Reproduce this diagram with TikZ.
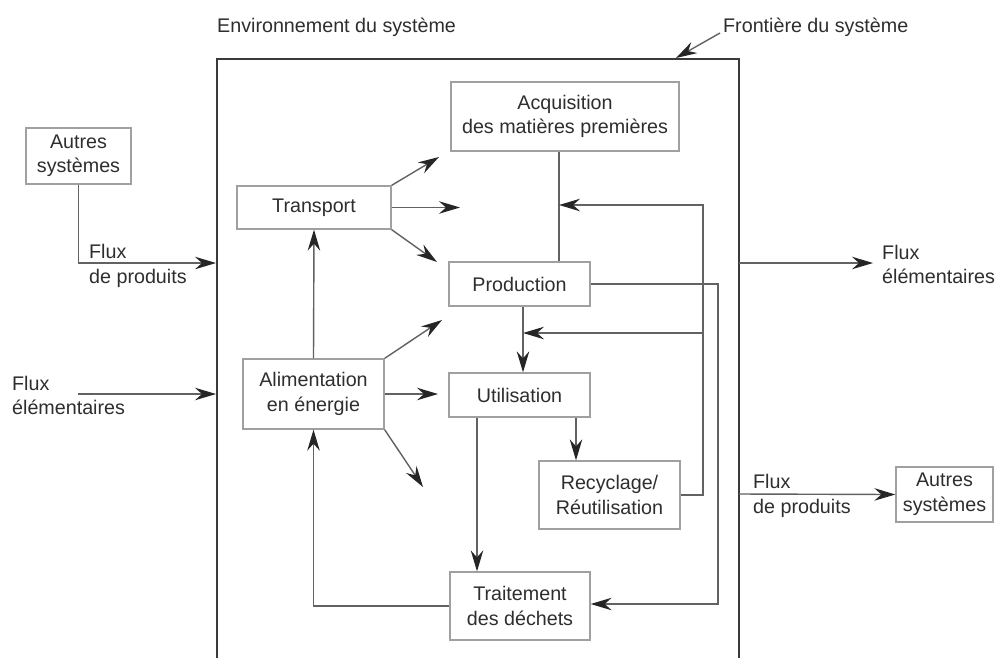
\documentclass[tikz,border=0pt]{standalone}
\usepackage{fontspec}
\setmainfont{Liberation Sans}
\usetikzlibrary{arrows.meta}
\definecolor{textc}{HTML}{2E2E2E}
\definecolor{boxc}{HTML}{A0A0A0}
\definecolor{linec}{HTML}{626262}
\definecolor{tipc}{HTML}{262626}
\definecolor{boundc}{HTML}{3A3A3A}
\begin{document}
\begin{tikzpicture}[x=1pt,y=-1pt,
  every node/.style={font=\fontsize{19.7}{24.5}\selectfont, text=textc, inner sep=0pt},
  box/.style={draw=boxc, line width=1.3pt, align=center},
  lbl/.style={anchor=base west},
  conn/.style={draw=linec, line width=1.4pt},
  arr/.style={conn, -{Stealth[length=21pt,width=12.5pt,inset=7pt,color=tipc]}},
  bound/.style={draw=boundc, line width=2.2pt}]
\useasboundingbox[fill=white] (0,0) rectangle (995,657);

% system boundary
\coordinate (bsw) at (217,662);
\coordinate (bnw) at (217,59);
\coordinate (bne) at (739,59);
\coordinate (bse) at (739,662);
\draw[bound] (bsw) -- (bnw) -- (bne) -- (bse);

% boxes
\node[box, minimum width=105pt, minimum height=56pt] (autresL) at (78.5,156) {Autres\\systèmes};
\node[box, minimum width=154pt, minimum height=43pt] (transport) at (314,207.5) {Transport};
\node[box, minimum width=141pt, minimum height=70pt] (alim) at (313.5,394) {Alimentation\\en énergie};
\node[box, minimum width=228pt, minimum height=69pt] (acq) at (565,116.5) {Acquisition\\des matières premières};
\node[box, minimum width=141pt, minimum height=44pt] (prod) at (519.5,284) {Production};
\node[box, minimum width=141pt, minimum height=44pt] (util) at (519.5,395) {Utilisation};
\node[box, minimum width=141pt, minimum height=68pt] (recyc) at (609.5,495) {Recyclage/\\Réutilisation};
\node[box, minimum width=140pt, minimum height=68pt] (trait) at (520,606) {Traitement\\des déchets};
\node[box, minimum width=97pt, minimum height=55pt] (autresR) at (944.5,494.5) {Autres\\systèmes};

% labels
\node[lbl] (env) at (217,32) {Environnement du système};
\node[lbl] (front) at (723,32) {Frontière du système};
\node[lbl] (fpL1) at (89,258) {Flux};
\node[lbl] (fpL2) at (89,283) {de produits};
\node[lbl] (feL1) at (12,390) {Flux};
\node[lbl] (feL2) at (12,414) {élémentaires};
\node[lbl] (feR1) at (882,259) {Flux};
\node[lbl] (feR2) at (882,283) {élémentaires};
\node[lbl] (fpR1) at (753,488) {Flux};
\node[lbl] (fpR2) at (753,513) {de produits};

% coordinates
\coordinate (fa0) at (720,33);
\coordinate (fa1) at (676,58);
\coordinate (bL1) at (216,263);
\coordinate (fe0) at (78,394);
\coordinate (bL2) at (216,394);
\coordinate (bR1) at (739,263);
\coordinate (feTip) at (873,263);
\coordinate (bR2) at (739,494);
\coordinate (tA) at (439,157);
\coordinate (tB) at (460,207.5);
\coordinate (tC) at (437,262);
\coordinate (aA) at (442,320);
\coordinate (aB) at (438,394);
\coordinate (aC) at (423,487);
\coordinate (j1) at (559,205);
\coordinate (fb1) at (703,205);
\coordinate (fb2) at (703,333);
\coordinate (j2) at (523,333);
\coordinate (pr) at (718,604);
\coordinate (u1) at (477,0);
\coordinate (u2) at (576,0);

% connectors
\draw[arr] (fa0) -- (fa1);
\draw[arr] (autresL.south) |- (bL1);
\draw[arr] (fe0) -- (bL2);
\draw[arr] (bR1) -- (feTip);
\draw[arr] (bR2) -- (autresR.west);

\draw[arr] (transport.north east) -- (tA);
\draw[arr] (transport.east) -- (tB);
\draw[arr] (transport.south east) -- (tC);
\draw[arr] (alim.north east) -- (aA);
\draw[arr] (alim.east) -- (aB);
\draw[arr] (alim.south east) -- (aC);
\draw[arr] (alim.north) -- (transport.south);

\draw[conn] (acq.south -| j1) -- (prod.north -| j1);
\draw[arr] (recyc.east) -| (fb1) -- (j1);
\draw[arr] (fb2) -- (j2);
\draw[arr] (prod.south -| j2) -- (util.north -| j2);
\draw[arr] (prod.east) -| (pr) -- (trait.east |- pr);
\draw[arr] (util.south -| u1) -- (trait.north -| u1);
\draw[arr] (util.south -| u2) -- (recyc.north -| u2);
\draw[arr] (trait.west) -| (alim.south);
\end{tikzpicture}
\end{document}
